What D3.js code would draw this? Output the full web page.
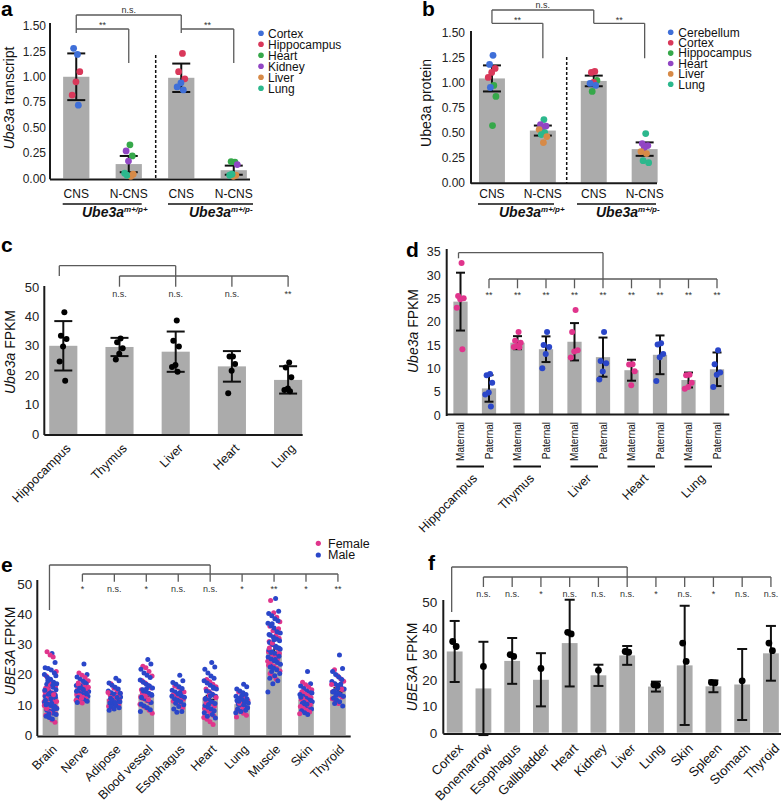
<!DOCTYPE html>
<html><head><meta charset="utf-8">
<script src="https://cdn.jsdelivr.net/npm/d3@7"></script>
<style>body{margin:0;background:#fff}</style>
</head><body>
<script>
const FONT = "'Liberation Sans', Arial, Helvetica, sans-serif";
// ================= DATA =================
// Panel a
const aGroups = ["CNS","N-CNS","CNS","N-CNS"];
const aGenotypes = ["m+/p+","m+/p-"];
const aMeans = [1.00, 0.14, 0.99, 0.08];
const aSD = [0.23, 0.08, 0.14, 0.045];
const aTissues = ["Cortex","Hippocampus","Heart","Kidney","Liver","Lung"];
const aDots = [
  [["Cortex",1.22],["Cortex",1.28],["Hippocampus",1.05],["Hippocampus",0.95],["Hippocampus",0.82],["Cortex",0.72]],
  [["Heart",0.33],["Kidney",0.27],["Heart",0.22],["Kidney",0.17],["Lung",0.05],["Liver",0.02],["Lung",0.03],["Liver",0.04]],
  [["Hippocampus",1.23],["Hippocampus",1.05],["Hippocampus",0.98],["Cortex",0.94],["Cortex",0.90],["Cortex",0.87]],
  [["Heart",0.16],["Heart",0.165],["Kidney",0.135],["Liver",0.02],["Lung",0.03],["Liver",0.03],["Lung",0.04]]
];
// Panel b
const bGroups = ["CNS","N-CNS","CNS","N-CNS"];
const bMeans = [1.04, 0.52, 1.015, 0.335];
const bSD = [0.13, 0.05, 0.053, 0.067];
const bTissues = ["Cerebellum","Cortex","Hippocampus","Heart","Liver","Lung"];
const bDots = [
  [["Cerebellum",1.27],["Cerebellum",1.18],["Cortex",1.14],["Cortex",1.10],["Cortex",1.05],["Hippocampus",0.97],["Cerebellum",0.95],["Hippocampus",0.86],["Hippocampus",0.57]],
  [["Lung",0.63],["Heart",0.58],["Heart",0.565],["Heart",0.55],["Liver",0.53],["Lung",0.50],["Lung",0.48],["Liver",0.46],["Liver",0.40]],
  [["Cortex",1.11],["Cortex",1.10],["Hippocampus",1.02],["Cortex",1.0],["Cerebellum",0.99],["Cerebellum",0.97],["Hippocampus",0.91]],
  [["Lung",0.49],["Heart",0.39],["Heart",0.37],["Heart",0.35],["Liver",0.31],["Liver",0.29],["Lung",0.22],["Lung",0.20]]
];
// Panel c
const cTissues = ["Hippocampus","Thymus","Liver","Heart","Lung"];
const cMeans = [30.0, 29.6, 28.0, 23.0, 18.4];
const cSD = [8.4, 3.1, 6.85, 5.2, 4.65];
const cDots = [
  [41.4, 33.4, 32.3, 29.8, 24.7, 18.1],
  [32.5, 31.2, 29.2, 27.3, 25.3],
  [38.6, 31.7, 29.8, 23.5, 22.8, 21.2],
  [26.4, 26.4, 23.8, 21.5, 13.9],
  [24.3, 22.6, 19.3, 15.5, 15.0, 14.5]
];
const cSig = ["", "n.s.", "n.s.", "n.s.", "**"];
// Panel d
const dTissues = ["Hippocampus","Thymus","Liver","Heart","Lung"];
const dAlleles = ["Maternal","Paternal"];
const dMeans = [24.3, 5.7, 15.5, 14.1, 15.7, 12.4, 9.6, 12.9, 7.5, 9.8];
const dSD = [6.2, 2.85, 1.4, 2.75, 4.0, 4.2, 2.25, 4.15, 1.6, 3.6];
const dDots = [
  [32.6, 25.5, 25.0, 24.8, 23.0, 14.1],
  [8.8, 8.5, 6.9, 4.8, 4.4, 1.8],
  [17.8, 15.9, 15.5, 14.8, 14.6, 14.5],
  [17.8, 15.0, 14.6, 13.1, 10.0],
  [22.5, 17.8, 13.9, 13.6, 12.3],
  [17.8, 11.6, 11.1, 9.3, 7.6],
  [10.9, 10.8, 9.4, 6.4],
  [15.4, 15.1, 13.1, 12.4, 7.3],
  [8.6, 8.5, 6.9, 6.0, 5.6],
  [13.9, 10.9, 9.1, 8.6, 6.0]
];
const dSig = ["", "**", "**", "**", "**", "**", "**", "**", "**", "**"];
// Panel e
const eTissues = ["Brain","Nerve","Adipose","Blood vessel","Esophagus","Heart","Lung","Muscle","Skin","Thyroid"];
const eMeans = [12.4, 14.6, 12.0, 13.5, 12.7, 12.4, 10.2, 28.1, 11.6, 14.9];
const eSEM = [0.6, 0.6, 0.5, 0.6, 0.6, 0.7, 0.5, 1.3, 0.5, 0.7];
const eFemale = [
  [27.6,26.5,25.8,21,19.5,18,17,16,15.5,14.8,14,13.5,13,12.6,12,11.5,11,10.5,10,9.5,9,8.5,8,7.5,7,6.5,6,5,4.2,14.2,12.3,11.8,10.8,9.8,15.2,16.5,13.3,11.1,8.8,7.3],
  [20.5,19.8,19,18,17.2,16.5,16,15.4,15,14.6,14.2,13.8,13.4,13,12.5,12,11.5,11,10.6,14.9,15.8,16.8,12.2],
  [17,15.5,14.6,13.8,13.2,12.6,12.2,11.8,11.4,11,10.5,10,9.5,9,12,13,14.1],
  [22.8,22.3,21,19.5,18,17.2,16.4,15.6,15,14.4,13.8,13.2,12.6,12,11.4,10.8,10.2,9.6,9,8.2,7.2,14,12.8,11.7],
  [16.2,15.8,15,14.2,13.6,13,12.4,11.8,11.2,10.6,10,9,13.2],
  [18.4,17.6,16.8,16,15.2,14.4,13.6,12.8,12,11.2,10.4,9.6,8.8,8,7.2,6.4,5.8,5.2,4.4,3.5,12.4,10.8,13.1],
  [14.2,13,12.2,11.4,10.8,10.2,9.6,9,8.4,7.8,7.2,6.5,6,10.5,8.7],
  [44.5,40.5,39,37.5,36,34.5,33,32,31,30,29.2,28.4,27.6,26.8,26,25.2,24.4,23.6,22.8,22,21.2,20.4,19.5,18.5,27,28.8,30.5,25.5,35.2,23.1],
  [17.5,16.6,15.8,15,14.3,13.6,13,12.4,11.8,11.2,10.6,10,9.4,8.8,8.2,7.6,7,12,11,9.9],
  [21.6,19.6,18.6,17.8,17,16.3,15.6,15,14.4,13.8,13.2,12.6,12,11.2,10.4,15.2,16.7]
];
const eMale = [
  [27,24,22.3,22,21.5,20.5,20,19,18.5,17.5,17,16.8,16.2,15.8,15,14.5,14.2,13.8,13.2,12.8,12.2,11.8,11.2,10.8,10.2,9.8,9.2,8.8,8.2,7.8,7.2,6.8,6.2,5.8,5.3,12.5,11.5,13.5,10.5,9.5,14.8,16.5,18,19.6,12,10,8.5,7],
  [23.5,20,19.2,18.5,17.8,17,16.4,15.8,15.2,14.8,14.4,14,13.6,13.2,12.8,12.4,12,11.6,11.2,10.8,16.2,15,13.8,14.5,17.4,15.5],
  [18.8,18,17.2,16.5,15.8,15.2,14.6,14,13.5,13,12.6,12.2,11.8,11.4,11,10.6,10.2,9.8,9.4,9,8.6,8.2,12.4,11.6,13.8,10.8],
  [25,23.5,21.8,20.5,19.8,19,18.2,17.5,16.8,16.2,15.6,15,14.4,13.8,13.2,12.6,12,11.4,10.8,10.2,9.6,9,8.4,7.8,14.6,13.4,15.3,12.3],
  [19.8,18,17.4,16.8,16,15.4,14.8,14.2,13.6,13,12.5,12,11.5,11,10.5,10,9.4,8.6,7.8,7.5,12.8,14],
  [24,22.5,21.8,20.5,19.5,18.8,18,17.2,16.5,15.8,15.2,14.6,14,13.4,12.8,12.2,11.6,11,10.4,9.8,9.2,8.6,8,7.4,6.8,6.2,5.6,13,11.8,15.5,10.1],
  [16.8,16,15.2,14.6,14,13.4,12.8,12.2,11.6,11,10.6,10.2,9.8,9.4,9,8.6,8.2,7.8,7.4,10,11.2,12,13.1,11.4],
  [45.2,41,40.2,39.5,38.5,37.8,37,36.2,35.4,34.6,33.8,33,32.4,31.8,31.2,30.6,30,29.4,28.8,28.2,27.6,27,26.4,25.8,25.2,24.6,24,23.4,22.8,22.2,21.6,21,20.4,19.6,18.8,18,17,14.2,29,27.3,26.1,31.5,33.3,34.2,36.8,28.5,25,22.5],
  [21,17,16.2,15.4,14.6,14,13.4,12.8,12.2,11.6,11,10.4,9.8,9.2,8.6,8,7.4,6.8,11.4,12.5,10.8,13.9,10.2],
  [26.5,22,21,20,19.2,18.4,17.7,17,16.4,15.8,15.2,14.6,14,13.4,12.8,12.2,11.6,11,10.4,9.6,15.5,14.2,16.9,13.1]
];
const eSig = ["", "*", "n.s.", "*", "n.s.", "n.s.", "*", "**", "*", "**"];
const eSexes = ["Female","Male"];
// Panel f
const fTissues = ["Cortex","Bonemarrow","Esophagus","Gallbladder","Heart","Kidney","Liver","Lung","Skin","Spleen","Stomach","Thyroid"];
const fMeans = [31.0, 16.9, 27.4, 20.2, 34.2, 21.9, 29.5, 17.6, 25.7, 17.7, 18.4, 30.3];
const fSD = [11.65, 17.8, 8.75, 10.15, 16.55, 4.05, 3.6, 1.9, 22.75, 2.25, 13.55, 10.45];
const fDots = [[34.8,32.9],[25.3],[29.8,29.1],[24.5],[38.3,37.7],[23.8],[31.0,30.7],[18.3,18.1],[34.2,27.2],[19.2,19.0],[19.8],[34.2,31.3]];
const fSig = ["", "n.s.", "n.s.", "*", "n.s.", "n.s.", "n.s.", "*", "n.s.", "*", "n.s.", "n.s."];

// ================= STYLE =================
const BAR = "#ababab";
const TISSUE_COLORS = ["#3f6fd8","#d9385a","#36a84a","#9146c4","#d78a47","#2cb88d"];
const PINK = "#e0358c", BLUE = "#2a46c9";
const aColor = d3.scaleOrdinal().domain(aTissues).range(TISSUE_COLORS);
const bColor = d3.scaleOrdinal().domain(bTissues).range(TISSUE_COLORS);
const jit = (i, w) => (((i * 0.6180339887) % 1) - 0.5) * w;

const svg = d3.select("body").append("svg").attr("width",784).attr("height",803)
  .style("font-family", FONT).style("background","#fff");

function yAxis(y, x, ticks, fmt, fs, top, pad) {
  const ax = svg.append("g").attr("transform",`translate(${x},0)`)
    .call(d3.axisLeft(y).tickValues(ticks).tickFormat(fmt).tickSize(0).tickPadding(pad));
  ax.select(".domain").remove();
  ax.selectAll("text").attr("font-size",fs).attr("fill","#222").attr("font-family",FONT);
  svg.append("line").attr("x1",x).attr("x2",x).attr("y1",top).attr("y2",y(0)+1)
    .attr("stroke","#1a1a1a").attr("stroke-width",2);
}
function xLine(x1, x2, yy) {
  svg.append("line").attr("x1",x1).attr("x2",x2).attr("y1",yy).attr("y2",yy)
    .attr("stroke","#1a1a1a").attr("stroke-width",2);
}
function bars(x, y, means) {
  svg.append("g").selectAll("rect").data(means).join("rect")
    .attr("x",(d,i)=>x(i)).attr("width",x.bandwidth())
    .attr("y",d=>y(d)).attr("height",d=>y(0)-y(d)).attr("fill",BAR);
}
function errs(x, y, means, sds, capW, sw) {
  const g = svg.append("g").attr("stroke","#111").attr("stroke-width",sw);
  means.forEach((m,i)=>{
    const cx = x(i)+x.bandwidth()/2, t = y(m+sds[i]), b = y(m-sds[i]);
    g.append("line").attr("x1",cx).attr("x2",cx).attr("y1",t).attr("y2",b);
    g.append("line").attr("x1",cx-capW/2).attr("x2",cx+capW/2).attr("y1",t).attr("y2",t);
    g.append("line").attr("x1",cx-capW/2).attr("x2",cx+capW/2).attr("y1",b).attr("y2",b);
  });
}
function seg(g, x1, y1, x2, y2) {
  g.append("line").attr("x1",x1).attr("x2",x2).attr("y1",y1).attr("y2",y2);
}
function bracketG() { return svg.append("g").attr("stroke","#5a5a5a").attr("stroke-width",1.3).attr("fill","none"); }
function sig(xx, yy, t) {
  svg.append("text").attr("x",xx).attr("y",yy).attr("text-anchor","middle")
    .attr("font-size",9).attr("fill","#333").text(t);
}
function yLabel(tx, ty, parts, fs) {
  const t = svg.append("text").attr("transform",`translate(${tx},${ty}) rotate(-90)`)
    .attr("text-anchor","middle").attr("font-size",fs).attr("fill","#111");
  parts.forEach(p => t.append("tspan").attr("font-style", p[1] ? "italic" : "normal").text(p[0]));
}
function letter(xx, yy, t) {
  svg.append("text").attr("x",xx).attr("y",yy).attr("font-size",21).attr("font-weight","bold").attr("fill","#000").text(t);
}
function rotLabels(x, labels, dx, yy, fs, ang) {
  svg.append("g").selectAll("text").data(labels).join("text")
    .attr("transform",(d,i)=>`translate(${x(i)+x.bandwidth()/2+dx},${yy}) rotate(${ang})`)
    .attr("text-anchor","end").attr("dy","0.35em").attr("font-size",fs).attr("fill","#111").text(d=>d);
}
function genotype(xx, yy, sup) {
  const t = svg.append("text").attr("x",xx).attr("y",yy).attr("font-size",14)
    .attr("font-weight","bold").attr("font-style","italic").attr("fill","#111");
  t.append("tspan").text("Ube3a");
  t.append("tspan").attr("font-size",8).attr("dy",-5).text(sup);
}

// ================= PANEL a =================
{
  const y = d3.scaleLinear().domain([0,1.5]).range([178.3, 26]);
  const x = d3.scaleBand().domain(d3.range(4)).range([50,260]).paddingInner(0.5).paddingOuter(0.25);
  const c = i => x(i)+x.bandwidth()/2;
  bars(x, y, aMeans);
  yAxis(y, 50, [0,0.25,0.5,0.75,1,1.25,1.5], d3.format(".2f"), 12, 23, 4);
  xLine(50, 250, 179.5);
  errs(x, y, aMeans, aSD, 18, 2);
  aDots.forEach((grp,gi)=>grp.forEach((d,i)=>{
    svg.append("circle").attr("cx",c(gi)+jit(i+1,10)).attr("cy",y(d[1])).attr("r",3.4).attr("fill",aColor(d[0]));
  }));
  svg.append("line").attr("x1",155.7).attr("x2",155.7).attr("y1",55).attr("y2",180)
    .attr("stroke","#111").attr("stroke-width",1.5).attr("stroke-dasharray","3,2");
  const g = bracketG();
  seg(g,c(0),15,c(2),15); seg(g,c(0),15,c(0),33); seg(g,c(2),15,c(2),33);
  seg(g,c(0),29,c(1),29); seg(g,c(1),29,c(1),63);
  seg(g,c(2),29,c(3),29); seg(g,c(3),29,c(3),63);
  sig((c(0)+c(2))/2, 12.5, "n.s."); sig((c(0)+c(1))/2, 28, "**"); sig((c(2)+c(3))/2, 28, "**");
  svg.append("g").selectAll("text").data(aGroups).join("text")
    .attr("x",(d,i)=>c(i)).attr("y",198).attr("text-anchor","middle").attr("font-size",12).attr("fill","#111").text(d=>d);
  svg.append("line").attr("x1",62.7).attr("x2",141.7).attr("y1",204).attr("y2",204).attr("stroke","#111").attr("stroke-width",1.5);
  svg.append("line").attr("x1",168).attr("x2",253).attr("y1",204).attr("y2",204).attr("stroke","#111").attr("stroke-width",1.5);
  genotype(82, 217, aGenotypes[0]); genotype(189, 217, aGenotypes[1]);
  yLabel(14, 98, [["Ube3a",true],[" transcript",false]], 14);
  aTissues.forEach((t,i)=>{
    svg.append("circle").attr("cx",261).attr("cy",33.3+11*i).attr("r",2.8).attr("fill",aColor(t));
    svg.append("text").attr("x",268).attr("y",33.3+11*i+4.3).attr("font-size",12).attr("fill","#111").text(t);
  });
  letter(1, 16, "a");
}
// ================= PANEL b =================
{
  const y = d3.scaleLinear().domain([0,1.5]).range([182.7, 32.3]);
  const x = d3.scaleBand().domain(d3.range(4)).range([466.5,670.1]).paddingInner(0.49).paddingOuter(0.245);
  const c = i => x(i)+x.bandwidth()/2;
  bars(x, y, bMeans);
  yAxis(y, 471, [0,0.25,0.5,0.75,1,1.25,1.5], d3.format(".2f"), 12, 31, 6);
  xLine(471, 657, 183.3);
  errs(x, y, bMeans, bSD, 18, 2);
  bDots.forEach((grp,gi)=>grp.forEach((d,i)=>{
    svg.append("circle").attr("cx",c(gi)+jit(i+1,9)).attr("cy",y(d[1])).attr("r",3.4).attr("fill",bColor(d[0]));
  }));
  svg.append("line").attr("x1",566.7).attr("x2",566.7).attr("y1",57).attr("y2",183)
    .attr("stroke","#111").attr("stroke-width",1.5).attr("stroke-dasharray","3,2");
  const g = bracketG();
  seg(g,c(0),10,c(2),10); seg(g,c(0),10,c(0),23.3); seg(g,c(2),10,c(2),23.3);
  seg(g,c(0),23.3,c(1),23.3); seg(g,c(1),23.3,c(1),58.3);
  seg(g,c(2),23.3,c(3),23.3); seg(g,c(3),23.3,c(3),58.3);
  sig((c(0)+c(2))/2, 7.5, "n.s."); sig((c(0)+c(1))/2, 22.5, "**"); sig((c(2)+c(3))/2, 22.5, "**");
  svg.append("g").selectAll("text").data(bGroups).join("text")
    .attr("x",(d,i)=>c(i)).attr("y",198).attr("text-anchor","middle").attr("font-size",12).attr("fill","#111").text(d=>d);
  svg.append("line").attr("x1",478).attr("x2",554).attr("y1",204).attr("y2",204).attr("stroke","#111").attr("stroke-width",1.5);
  svg.append("line").attr("x1",577).attr("x2",656).attr("y1",204).attr("y2",204).attr("stroke","#111").attr("stroke-width",1.5);
  genotype(499, 217, aGenotypes[0]); genotype(596, 217, aGenotypes[1]);
  yLabel(431, 103, [["Ube3a protein",false]], 14);
  bTissues.forEach((t,i)=>{
    svg.append("circle").attr("cx",670.7).attr("cy",32.3+10.4*i).attr("r",2.8).attr("fill",bColor(t));
    svg.append("text").attr("x",678.3).attr("y",32.3+10.4*i+4.3).attr("font-size",12).attr("fill","#111").text(t);
  });
  letter(422, 16, "b");
}
// ================= PANEL c =================
{
  const y = d3.scaleLinear().domain([0,50]).range([434, 287]);
  const x = d3.scaleBand().domain(d3.range(5)).range([35.2,316.2]).paddingInner(0.5).paddingOuter(0.25);
  const c = i => x(i)+x.bandwidth()/2;
  bars(x, y, cMeans);
  yAxis(y, 44.3, [0,10,20,30,40,50], d3.format("d"), 13, 286, 5);
  xLine(44.3, 302.7, 435);
  errs(x, y, cMeans, cSD, 18, 2);
  cDots.forEach((grp,gi)=>grp.forEach((v,i)=>{
    svg.append("circle").attr("cx",c(gi)+jit(i+1,9)).attr("cy",y(v)).attr("r",3).attr("fill","#000");
  }));
  const g = bracketG();
  seg(g,c(0)-4,265.7,c(2),265.7); seg(g,c(0)-4,265.7,c(0)-4,276); seg(g,c(2),265.7,c(2),286.7);
  seg(g,c(1),276,c(4),276);
  [1,3,4].forEach(i=>seg(g,c(i),276,c(i),286.7));
  cSig.forEach((s,i)=>{ if (s) sig(c(i), 297, s); });
  rotLabels(x, cTissues, 5, 446, 12.5, -45);
  yLabel(15, 352, [["Ube3a",true],[" FPKM",false]], 14);
  letter(1, 252, "c");
}
// ================= PANEL d =================
{
  const y = d3.scaleLinear().domain([0,35]).range([415, 251.7]);
  const x = d3.scaleBand().domain(d3.range(10)).range([446.25,731.25]).paddingInner(0.5).paddingOuter(0.25);
  const c = i => x(i)+x.bandwidth()/2;
  bars(x, y, dMeans);
  yAxis(y, 446.7, [0,5,10,15,20,25,30,35], d3.format("d"), 12.5, 249, 6);
  xLine(446.7, 729.3, 414.5);
  errs(x, y, dMeans, dSD, 9, 2);
  dDots.forEach((grp,gi)=>grp.forEach((v,i)=>{
    svg.append("circle").attr("cx",c(gi)+jit(i+1,9)).attr("cy",y(v)).attr("r",3).attr("fill", gi%2===0 ? PINK : BLUE);
  }));
  const g = bracketG();
  seg(g,c(0)-2,252.7,c(5),252.7); seg(g,c(0)-2,252.7,c(0)-2,258.3); seg(g,c(5),252.7,c(5),288.3);
  seg(g,c(1),279,c(9),279);
  d3.range(1,10).forEach(i=>{ if (i!==5) seg(g,c(i),279,c(i),288.3); });
  dSig.forEach((s,i)=>{ if (s) sig(c(i), 298, s); });
  svg.append("g").selectAll("text").data(d3.range(10)).join("text")
    .attr("transform",i=>`translate(${c(i)},422) rotate(-90)`)
    .attr("text-anchor","end").attr("dy","0.35em").attr("font-size",10).attr("fill","#111")
    .text(i=>dAlleles[i%2]);
  dTissues.forEach((t,k)=>{
    const m = c(2*k), p = c(2*k+1);
    svg.append("line").attr("x1",m-4).attr("x2",p-5).attr("y1",466.5).attr("y2",466.5).attr("stroke","#111").attr("stroke-width",2);
    svg.append("text").attr("transform",`translate(${(m+p)/2},476) rotate(-45)`)
      .attr("text-anchor","end").attr("dy","0.35em").attr("font-size",12.5).attr("fill","#111").text(t);
  });
  yLabel(418, 331, [["Ube3a",true],[" FPKM",false]], 14);
  letter(406, 257, "d");
}
// ================= PANEL e =================
{
  const y = d3.scaleLinear().domain([0,50]).range([735, 584]);
  const x = d3.scaleBand().domain(d3.range(10)).range([34.5,353.9]).paddingInner(0.51).paddingOuter(0.255);
  const c = i => x(i)+x.bandwidth()/2;
  bars(x, y, eMeans);
  yAxis(y, 37.3, [0,10,20,30,40,50], d3.format("d"), 13.5, 580, 5);
  xLine(37.3, 350.7, 736.5);
  errs(x, y, eMeans, eSEM, 9, 1.5);
  eTissues.forEach((t,ti)=>{
    const F = eFemale[ti], M = eMale[ti];
    const pts = [];
    for (let i=0;i<Math.max(F.length,M.length);i++){
      if (i<M.length) pts.push([M[i],1]);
      if (i<F.length) pts.push([F[i],0]);
    }
    svg.append("g").selectAll("circle").data(pts).join("circle")
      .attr("cx",(d,i)=>c(ti)+jit(i+1,13)).attr("cy",d=>y(d[0])).attr("r",2.5)
      .attr("fill",d=>d[1]===0?PINK:BLUE);
  });
  const g = bracketG();
  seg(g,c(0)-1,565,c(5),565); seg(g,c(0)-1,565,c(0)-1,610); seg(g,c(5),565,c(5),581.7);
  seg(g,c(1),574,c(9),574);
  d3.range(1,10).forEach(i=>{ if (i!==5) seg(g,c(i),574,c(i),581.7); });
  eSig.forEach((s,i)=>{ if (s) sig(c(i), 592, s); });
  rotLabels(x, eTissues, 4, 747, 12.5, -45);
  yLabel(15, 651, [["UBE3A",true],[" FPKM",false]], 14);
  eSexes.forEach((s,i)=>{
    svg.append("circle").attr("cx",318.3).attr("cy",543.3+11.7*i).attr("r",2.6).attr("fill", i===0?PINK:BLUE);
    svg.append("text").attr("x",328).attr("y",543.3+11.7*i+4.3).attr("font-size",12.5).attr("fill","#111").text(s);
  });
  letter(1, 572, "e");
}
// ================= PANEL f =================
{
  const y = d3.scaleLinear().domain([0,50]).range([732.7, 601.7]);
  const x = d3.scaleBand().domain(d3.range(12)).range([440.3,785.3]).paddingInner(0.45).paddingOuter(0.225);
  const c = i => x(i)+x.bandwidth()/2;
  bars(x, y, fMeans);
  yAxis(y, 443.3, [0,10,20,30,40,50], d3.format("d"), 13.5, 600, 6);
  xLine(443.3, 781, 734);
  errs(x, y, fMeans, fSD, 10, 2);
  fDots.forEach((grp,gi)=>grp.forEach((v,i)=>{
    svg.append("circle").attr("cx",c(gi)+(i===0?-2:1.5)*(grp.length>1?1:0)).attr("cy",y(v)).attr("r",3.4).attr("fill","#000");
  }));
  const g = bracketG();
  seg(g,c(0)-3,567,c(6),567); seg(g,c(0)-3,567,c(0)-3,612); seg(g,c(6),567,c(6),587);
  seg(g,c(1),577,c(11),577);
  d3.range(1,12).forEach(i=>{ if (i!==6) seg(g,c(i),577,c(i),587); });
  fSig.forEach((s,i)=>{ if (s) sig(c(i), 597, s); });
  rotLabels(x, fTissues, 6, 746, 13, -45);
  yLabel(417, 667, [["UBE3A",true],[" FPKM",false]], 14);
  letter(428, 570, "f");
}
</script>
</body></html>
